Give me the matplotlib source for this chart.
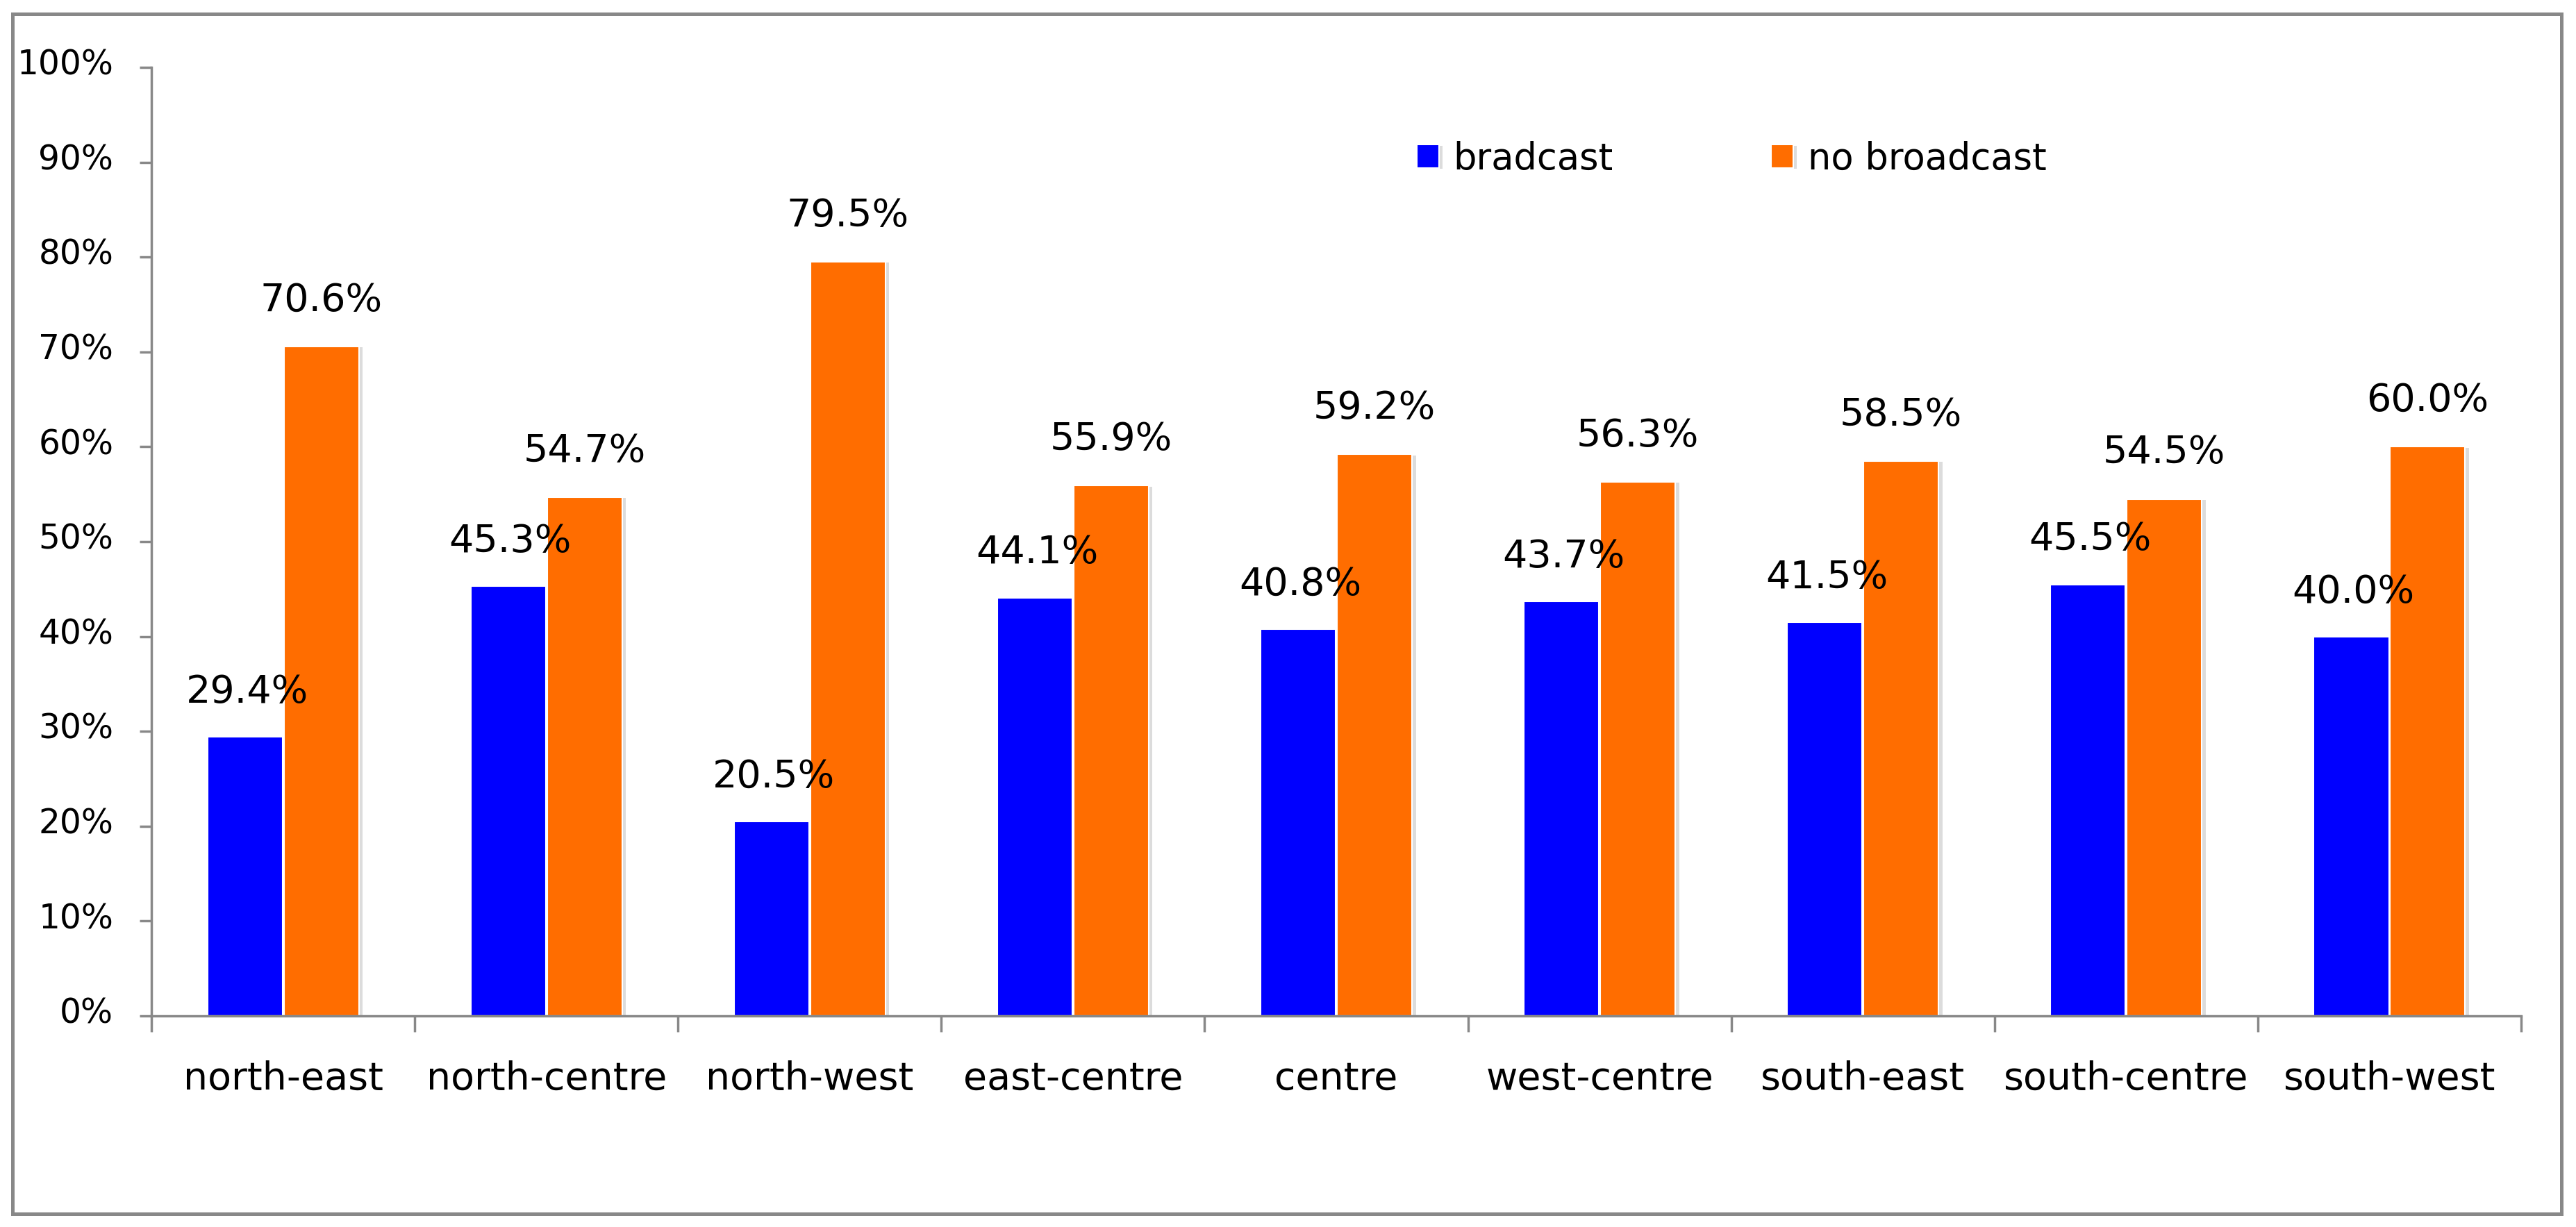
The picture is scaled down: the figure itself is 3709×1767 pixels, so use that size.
import numpy as np
import matplotlib
matplotlib.use("Agg")
import matplotlib.pyplot as plt
import matplotlib.patheffects as pe
import matplotlib.transforms as mtransforms
from matplotlib.patches import Rectangle


regions = [
    "north-east",
    "north-centre",
    "north-west",
    "east-centre",
    "centre",
    "west-centre",
    "south-east",
    "south-centre",
    "south-west",
]
broadcast = [29.4, 45.3, 20.5, 44.1, 40.8, 43.7, 41.5, 45.5, 40.0]
no_broadcast = [70.6, 54.7, 79.5, 55.9, 59.2, 56.3, 58.5, 54.5, 60.0]
series_names = ["bradcast", "no broadcast"]
y_ticks = [0, 10, 20, 30, 40, 50, 60, 70, 80, 90, 100]

plt.rcParams["font.family"] = ["DejaVu Sans"]

grey = "#888888"
blue = "#0000FF"
orange = "#FF6D00"

fig = plt.figure(figsize=(37.09, 17.67), dpi=100)
ax = fig.add_axes([0.0588, 0.1720, 0.9199, 0.7731])

x = np.arange(len(regions))
width = 0.285
shadow = [pe.SimplePatchShadow(offset=(4, -1), shadow_rgbFace="#bbbbbb", alpha=0.5),
          pe.Normal()]

ax.bar(x - 0.145, broadcast, width, color=blue, edgecolor="white",
       linewidth=1.5, label=series_names[0], path_effects=shadow)
ax.bar(x + 0.145, no_broadcast, width, color=orange, edgecolor="white",
       linewidth=1.5, label=series_names[1], path_effects=shadow)

for xi, v in zip(x - 0.145, broadcast):
    ax.text(xi + 0.008, v + 4.7, f"{v:.1f}%", ha="center", va="center", fontsize=40)
for xi, v in zip(x + 0.145, no_broadcast):
    ax.text(xi, v + 4.85, f"{v:.1f}%", ha="center", va="center", fontsize=40)

ax.set_xlim(-0.5, len(regions) - 0.5)
ax.set_ylim(0, 100)

# category boundaries get the tick marks, centres get the labels
ax.set_xticks(np.arange(-0.5, len(regions)), labels=[""] * (len(regions) + 1))
ax.set_xticks(x, labels=regions, minor=True)
ax.tick_params(axis="x", which="major", direction="out", length=16.5,
               width=2.5, color=grey)
ax.tick_params(axis="x", which="minor", length=0, pad=46, labelsize=40)

ax.set_yticks(y_ticks, labels=[f"{t}%" for t in y_ticks])
ax.tick_params(axis="y", direction="out", length=12.5, width=2.5, color=grey,
               pad=27, labelsize=35)
lift = mtransforms.ScaledTranslation(0, 6 / 72, fig.dpi_scale_trans)
for lab in ax.get_yticklabels():
    lab.set_transform(lab.get_transform() + lift)

for side in ["top", "right"]:
    ax.spines[side].set_visible(False)
for side in ["left", "bottom"]:
    ax.spines[side].set_color(grey)
    ax.spines[side].set_linewidth(2.5)

ax.legend(
    loc="center left",
    bbox_to_anchor=(0.550, 0.8705),
    bbox_transform=fig.transFigure,
    ncol=2,
    frameon=False,
    fontsize=38,
    handlelength=0.6,
    handleheight=0.6,
    handletextpad=0.4,
    columnspacing=4.3,
    borderpad=0,
    borderaxespad=0,
)

fig.add_artist(
    Rectangle(
        (18 / 3709, 1 - 1748 / 1767),
        (3688 - 18) / 3709,
        (1748 - 20) / 1767,
        transform=fig.transFigure,
        fill=False,
        edgecolor=grey,
        linewidth=3.6,
    )
)

fig.savefig("out.png", dpi=100)
